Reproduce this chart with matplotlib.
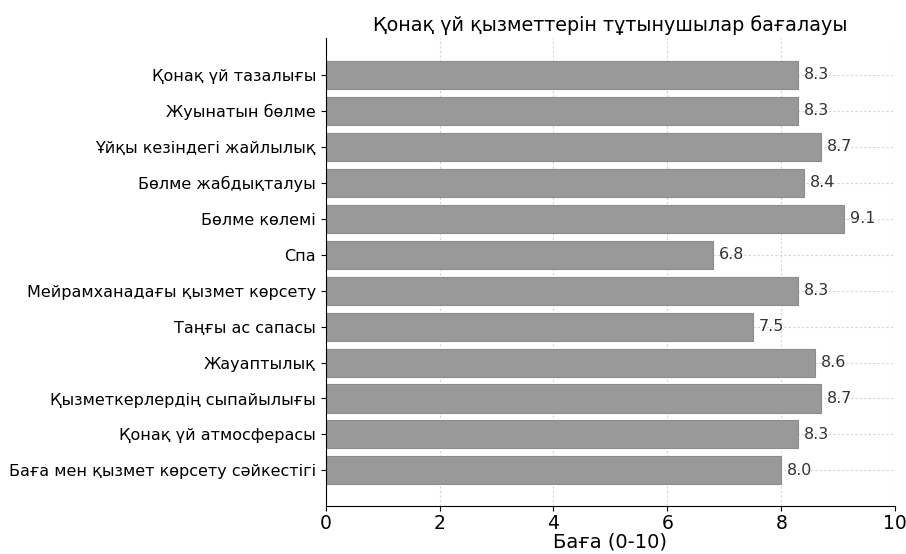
import matplotlib.pyplot as plt

# Ratings per service aspect (0-10 scale)
categories = [
    'Қонақ үй тазалығы',
    'Жуынатын бөлме',
    'Ұйқы кезіндегі жайлылық',
    'Бөлме жабдықталуы',
    'Бөлме көлемі',
    'Спа',
    'Мейрамханадағы қызмет көрсету',
    'Таңғы ас сапасы',
    'Жауаптылық',
    'Қызметкерлердің сыпайылығы',
    'Қонақ үй атмосферасы',
    'Баға мен қызмет көрсету сәйкестігі',
]
scores = [8.3, 8.3, 8.7, 8.4, 9.1, 6.8, 8.3, 7.5, 8.6, 8.7, 8.3, 8.0]

fig = plt.figure(figsize=(9.06, 5.54), dpi=100)
ax = fig.add_axes([0.3595, 0.086, 0.6285, 0.8456])

ypos = list(range(len(categories)))[::-1]
ax.barh(ypos, scores, height=0.78, color='#999999', edgecolor='#8c8c8c',
        linewidth=0.8, zorder=2)

for y, v in zip(ypos, scores):
    ax.text(v + 0.1, y, f'{v:.1f}', va='center', ha='left',
            fontsize=11.4, color='#333333', zorder=3)

ax.set_yticks(ypos)
ax.set_yticklabels(categories, fontsize=11.5)
ax.set_xlim(0, 10)
ax.set_ylim(-1.0, len(categories) + 0.03)
ax.set_xticks([0, 2, 4, 6, 8, 10])
ax.tick_params(axis='x', labelsize=13.5, pad=2)
ax.set_xlabel('Баға (0-10)', fontsize=14, labelpad=0)
ax.set_title('Қонақ үй қызметтерін тұтынушылар бағалауы', fontsize=13.8, pad=5)

ax.grid(True, linestyle=(0, (2, 2)), color='#d5d5d5', linewidth=0.8, zorder=0)
ax.set_axisbelow(True)
for side in ['top', 'right']:
    ax.spines[side].set_visible(False)

plt.savefig('out.png', dpi=100)
